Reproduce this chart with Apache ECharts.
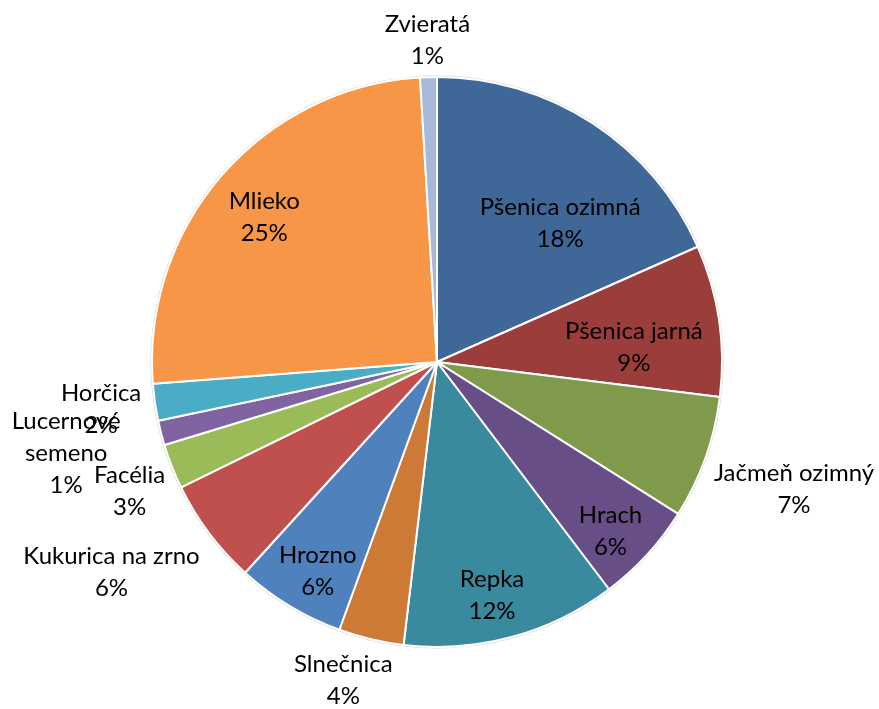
<!DOCTYPE html>
<html>
<head>
<meta charset="utf-8">
<script src="https://cdn.jsdelivr.net/npm/echarts@6/dist/echarts.min.js"></script>
<style>html,body{margin:0;padding:0;background:#fff;}#chart{width:879px;height:709px;}</style>
</head>
<body>
<div id="chart"></div>
<script>
const categories = ['Pšenica ozimná','Pšenica jarná','Jačmeň ozimný','Hrach','Repka','Slnečnica','Hrozno','Kukurica na zrno','Facélia','Lucernové\nsemeno','Horčica','Mlieko','Zvieratá'];
const values = [18.4, 8.6, 7.0, 5.75, 12.2, 3.7, 6.2, 6.0, 2.55, 1.4, 2.1, 25.3, 0.95];
const colors = ['#3F6797','#9B3E3B','#7E9A4A','#674E87','#3A8A9F','#CC7A35','#4F81BD','#C0504D','#9BBB59','#8064A2','#4BACC6','#F79646','#A8B8DA'];
// label placement (layout only): radius factor and angle shift from slice middle
const labelRadius = [0.65, 0.693, 1.33, 0.85, 0.84, 1.165, 0.845, 1.36, 1.17, 1.34, 1.19, 0.79, 1.13];
const labelShift = [8.6, 4.0, 0, 1.7, 1.9, 3, -1.5, 4, -1.3, 0.6, 0.2, -1.2, 0];

const CX = 437, CY = 362, R = 285;
const total = values.reduce((a, b) => a + b, 0);
const mids = [];
let acc = 0;
values.forEach(v => { mids.push((acc + v / 2) / total * 360); acc += v; });

const chart = echarts.init(document.getElementById('chart'));
chart.setOption({
  animation: false,
  color: colors,
  series: [
    {
      type: 'pie', silent: true, center: [CX, CY], radius: [0, R + 1.5],
      data: [{ value: 1, itemStyle: { color: '#d4d4d4' } }],
      label: { show: false }, labelLine: { show: false }
    },
    {
      type: 'pie',
      center: [CX, CY],
      radius: [0, R],
      startAngle: 90,
      clockwise: true,
      avoidLabelOverlap: false,
      data: categories.map((c, i) => ({ name: c, value: values[i] })),
      itemStyle: { borderColor: '#ffffff', borderWidth: 2 },
      label: {
        show: true,
        position: 'inside',
        formatter: p => p.name + '\n' + Math.round(p.value / total * 100) + '%',
        fontFamily: 'Lato',
        fontSize: 24,
        lineHeight: 32,
        color: '#000',
        align: 'center'
      },
      labelLine: { show: false },
      labelLayout: function (p) {
        const i = p.dataIndex;
        const a = (mids[i] + labelShift[i]) * Math.PI / 180;
        const k = labelRadius[i] * R;
        return { x: CX + k * Math.sin(a), y: CY - k * Math.cos(a), align: 'center', verticalAlign: 'middle' };
      }
    }
  ]
});
</script>
</body>
</html>
